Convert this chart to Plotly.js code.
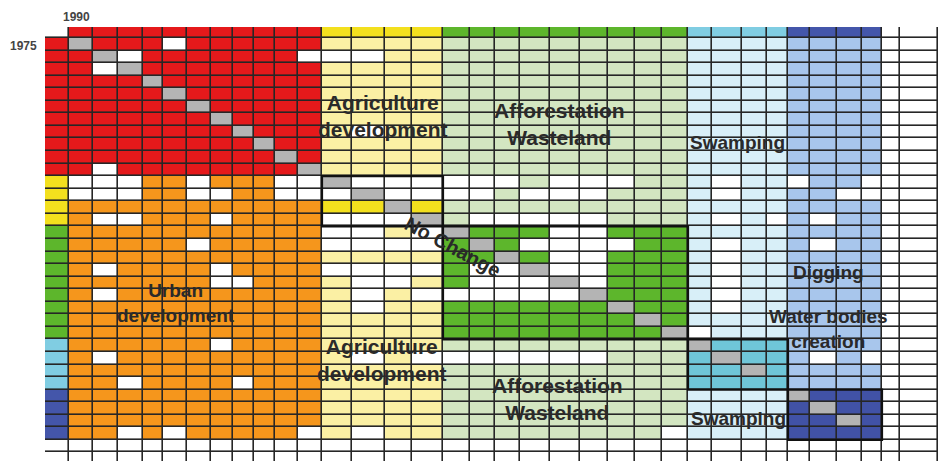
<!DOCTYPE html>
<html><head><meta charset="utf-8">
<script src="https://cdn.plot.ly/plotly-3.0.1.min.js"></script>
<style>html,body{margin:0;padding:0;overflow:hidden;background:#fff}</style>
</head><body><div id="chart" style="width:938px;height:465px"></div>
<script>
// Land-use classes: 1975 (rows) -> 1990 (columns)
const groupNames = ['Urban', 'Agriculture', 'Forest', 'Swamp', 'Water'];
const groupSizes = [11, 4, 9, 4, 4];
// columns (per row) of cells holding a transition value
const valueCols = [
  [], [5], [3,11,12,13], [2], [], [], [], [], [13], [], [], [2],
  [1,2,3,6,10,11,13,14,15,16,17,18,20,21,22,26,29,32],
  [1,2,3,6,7,10,11,12,14,15,16,17,19,20,21,26,31,32],
  [],
  [2,3,7,12,13,14,17,18,19,20,21,26,28,30],
  [12,13,15,20,21],
  [6,12,13,14,15,19,20,21,22,26,30],
  [20,21,26],
  [2,7,12,13,14,15,17,18,20,21,26],
  [7,8,13,14,17,18,19,21,26],
  [2,13,15,16,17,18,19,20,26],
  [13,26], [], [25], [7],
  [2,13,15,16,17,18,19,20,21,30,32],
  [], [3,8], [], [], [], [3,5,11,13,24], [], []
];
// column of the "no change" (diagonal) cell per row
const noChangeCol = [null,1,2,3,4,5,6,7,8,9,10,11,12,13,14,15,16,17,18,19,20,21,22,23,24,25,26,27,null,29,30,31,null,null,null];
// labels
const blockLabels = ['Agriculture<br>development', 'Afforestation<br>Wasteland', 'Swamping', 'No Change',
  'Urban<br>development', 'Digging', 'Water bodies<br>creation'];
const yearLabels = ['1990', '1975'];

// ---- layout geometry (pixels) ----
const colWidths = [24, 24,25,25,20,24,24,22,21,21,23,24, 30,33,27,31, 27,25,25,30,30,28,27,27,26, 24,30,25,21, 22,27,25,20, 18,38];
const rowHeights = [11].concat(Array(34).fill(12.55));

const xe = [0]; colWidths.forEach(w => xe.push(xe[xe.length-1] + w));
const ye = [0]; rowHeights.forEach(h => ye.push(ye[ye.length-1] + h));

// group index per column / row (-1 header, -2 blank/total)
const grp = [-1];
groupSizes.forEach((s, g) => { for (let k = 0; k < s; k++) grp.push(g); });
grp.push(-2, -2);

const strong = ['#e5191b', '#f3e01e', '#5db62c', '#6fc6d8', '#4152a6'];
const header = ['#e5191b', '#f3e01e', '#5db62c', '#80cde2', '#4456aa'];
const off = ['#f5961c', '#fbf0a4', '#d3e6c1', '#d8eff8', '#a8c6ec'];
const palette = ['#ffffff', '#b4b4b4'].concat(strong, header, off);
const idx = c => palette.indexOf(c);

const z = [];
for (let r = 0; r < rowHeights.length; r++) {
  const row = [];
  for (let c = 0; c < colWidths.length; c++) {
    const rg = grp[r], cg = grp[c];
    let col = '#ffffff';
    if (r === 0) col = cg >= 0 ? header[cg] : '#ffffff';
    else if (c === 0) col = rg >= 0 ? header[rg] : '#ffffff';
    else if (rg >= 0 && cg >= 0) col = (rg === cg) ? strong[cg] : off[cg];
    if (valueCols[r] && valueCols[r].includes(c)) col = '#ffffff';
    if (noChangeCol[r] === c) col = '#b4b4b4';
    row.push(idx(col) + 0.5);
  }
  z.push(row);
}
const N = palette.length;
const cs = [];
palette.forEach((p, i) => { cs.push([i / N, p]); cs.push([(i + 1) / N, p]); });

// block outlines for diagonal blocks
const shapes = [];
let start = 1;
groupSizes.forEach((s, g) => {
  if (g > 0) shapes.push({type:'rect', xref:'x', yref:'y', x0: xe[start], x1: xe[start+s], y0: ye[start], y1: ye[start+s],
    line:{color:'#111', width:2.2}});
  start += s;
});

const L = 45, T = 27;
const FONT = 'Liberation Sans, Arial, sans-serif';
const ann = [];
function lbl(text, px, py, size, angle) {
  ann.push({text, x: px - L, y: py - T, xref:'x', yref:'y', showarrow:false, textangle: angle || 0,
    xanchor:'center', yanchor:'middle',
    font:{family:FONT, size, color:'#2a2a2a', weight:'bold'}, align:'center'});
}
lbl(blockLabels[0], 383, 116, 21);
lbl(blockLabels[1], 559, 124, 21);
lbl(blockLabels[2], 737, 142, 19);
lbl(blockLabels[3], 453, 247, 20, 28);
lbl(blockLabels[4], 176, 303, 19);
lbl(blockLabels[0], 382, 360, 21);
lbl(blockLabels[1], 557, 399, 21);
lbl(blockLabels[5], 828, 272, 19);
lbl(blockLabels[6], 828, 329, 19);
lbl(blockLabels[2], 738, 418, 19);
const W = 893, H = ye[ye.length-1];
ann.push({text: yearLabels[0], xref:'paper', yref:'paper', x:(76-L)/W, y:1 + (T-17)/H, showarrow:false,
  xanchor:'center', yanchor:'middle', font:{family:FONT, size:12, color:'#444', weight:'bold'}});
ann.push({text: yearLabels[1], xref:'paper', yref:'paper', x:(23-L)/W, y:1 - (46-T)/H, showarrow:false,
  xanchor:'center', yanchor:'middle', font:{family:FONT, size:12, color:'#444', weight:'bold'}});

const trace = {type:'heatmap', x: xe, y: ye, z, colorscale: cs, zmin: 0, zmax: N, showscale:false,
  xgap:1.6, ygap:1.6, hoverinfo:'skip'};

Plotly.newPlot('chart', [trace], {
  width: 938, height: T + Math.ceil(H), margin:{l:L, r:0, t:T, b:0},
  paper_bgcolor:'#ffffff', plot_bgcolor:'#262626',
  xaxis:{range:[0, W], showgrid:false, zeroline:false, showticklabels:false, ticks:'', fixedrange:true},
  yaxis:{range:[H, 0], showgrid:false, zeroline:false, showticklabels:false, ticks:'', fixedrange:true},
  shapes, annotations: ann, showlegend:false
}, {displayModeBar:false, staticPlot:true});
</script></body></html>
